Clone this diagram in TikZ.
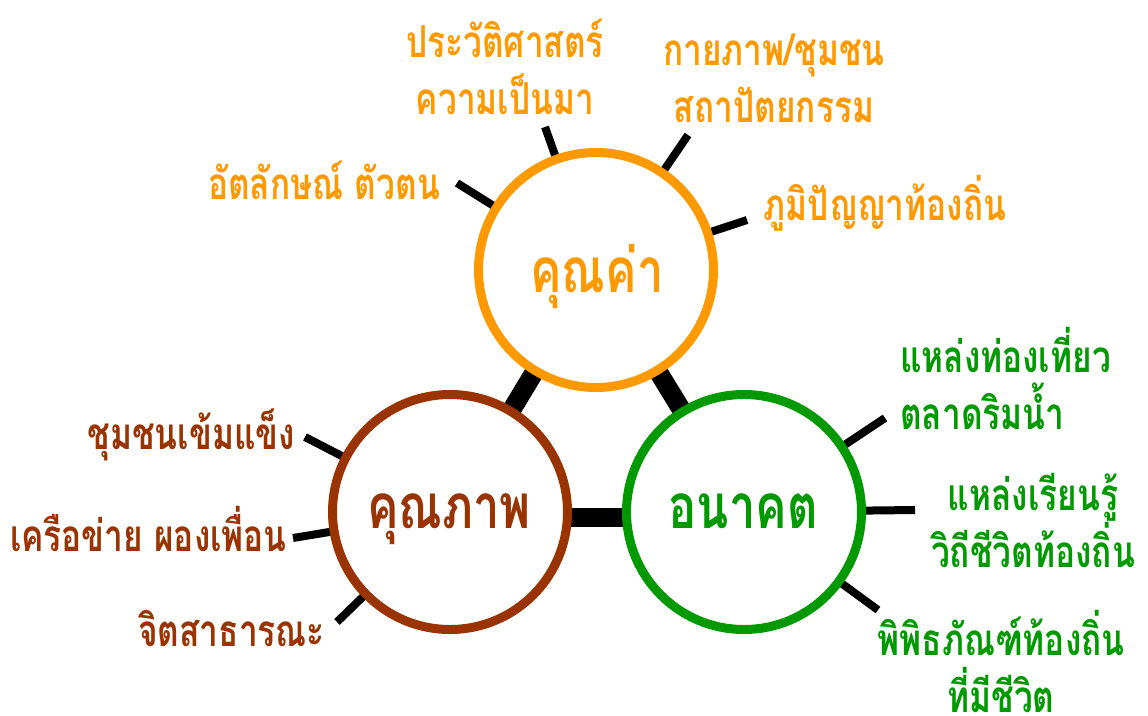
\documentclass[tikz,border=0pt]{standalone}
\usepackage{fontspec}
\newfontfamily\thaifont[Script=Thai,FakeStretch=0.76]{Loma}
\usetikzlibrary{backgrounds}
\definecolor{corange}{RGB}{255,153,0}
\definecolor{cbrown}{RGB}{153,51,0}
\definecolor{cgreen}{RGB}{0,153,0}
\begin{document}
\begin{tikzpicture}[x=1pt,y=-1pt,
  ring/.style={circle, draw, line width=9pt, fill=white, minimum size=235pt, inner sep=0pt},
  bigtext/.style={font=\thaifont\bfseries\fontsize{62}{70}\selectfont, inner sep=0pt, anchor=base},
  spoke/.style={line width=8pt, black},
  bar/.style={line width=19pt, black},
  lbl/.style={font=\thaifont\bfseries\fontsize{44}{57}\selectfont, inner sep=0pt}
]
\useasboundingbox (0,0) rectangle (1148,715);
% circles
\node[ring, draw=corange] (val) at (596,270) {};
\node[ring, draw=cbrown] (qual) at (450,512) {};
\node[ring, draw=cgreen] (fut) at (744,512) {};
\node[bigtext, text=corange] (valt) at (597,292) {คุณค่า};
\node[bigtext, text=cbrown] (qualt) at (449,528) {คุณภาพ};
\node[bigtext, text=cgreen] (futt) at (743,528) {อนาคต};
% spoke ends
\coordinate (v1) at (457,183);
\coordinate (v2) at (545,127);
\coordinate (v3) at (688,135);
\coordinate (v4) at (747,220);
\coordinate (q1) at (305,437);
\coordinate (q2) at (293,538);
\coordinate (q3) at (337,622);
\coordinate (f1) at (885,418);
\coordinate (f2) at (915,510);
\coordinate (f3) at (878,610);
\begin{scope}[on background layer]
  \draw[bar] (val.center) -- (qual.center);
  \draw[bar] (val.center) -- (fut.center);
  \draw[bar] ([yshift=-5pt]qual.center) -- ([yshift=-5pt]fut.center);
  \draw[spoke] (val.center) -- (v1);
  \draw[spoke] (val.center) -- (v2);
  \draw[spoke] (val.center) -- (v3);
  \draw[spoke] (val.center) -- (v4);
  \draw[spoke] (qual.center) -- (q1);
  \draw[spoke] (qual.center) -- (q2);
  \draw[spoke] (qual.center) -- (q3);
  \draw[spoke] (fut.center) -- (f1);
  \draw[spoke] (fut.center) -- (f2);
  \draw[spoke] (fut.center) -- (f3);
\end{scope}
% labels
\node[lbl, text=corange, align=center] (t1) at (505,67) {ประวัติศาสตร์\\ความเป็นมา};
\node[lbl, text=corange, align=center] (t2) at (774,78) {กายภาพ/ชุมชน\\สถาปัตยกรรม};
\node[lbl, text=corange] (t3) at (324,180) {อัตลักษณ์ ตัวตน};
\node[lbl, text=corange] (t4) at (885,203) {ภูมิปัญญาท้องถิ่น};
\node[lbl, text=cgreen, align=left, anchor=west] (t5) at (900,378) {แหล่งท่องเที่ยว\\ตลาดริมน้ำ};
\node[lbl, text=cgreen, align=center] (t6) at (1033,520) {แหล่งเรียนรู้\\วิถีชีวิตท้องถิ่น};
\node[lbl, text=cgreen, align=center] (t7) at (1001,661) {พิพิธภัณฑ์ท้องถิ่น\\ที่มีชีวิต};
\node[lbl, text=cbrown, anchor=east] (t8) at (295,435) {ชุมชนเข้มแข็ง};
\node[lbl, text=cbrown, anchor=east] (t9) at (287,529) {เครือข่าย ผองเพื่อน};
\node[lbl, text=cbrown, anchor=east] (t10) at (325,629) {จิตสาธารณะ};
\end{tikzpicture}
\end{document}
